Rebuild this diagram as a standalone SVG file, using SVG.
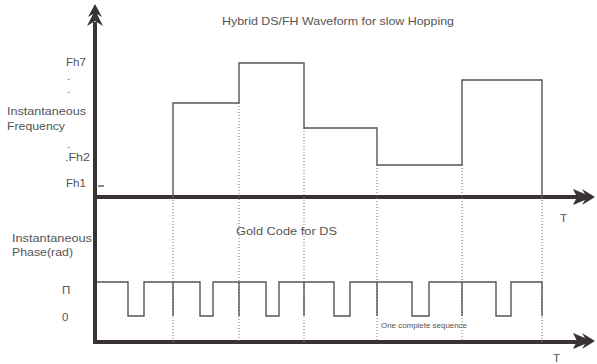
<svg xmlns="http://www.w3.org/2000/svg" width="597" height="364" viewBox="0 0 597 364">
<style>
text{font-family:"Liberation Sans",Arial,sans-serif;fill:#555;}
.lbl{font-size:11.5px;}
.axis{stroke:#3a3333;stroke-width:4;fill:none;}
.wave{stroke:#555;stroke-width:1.4;fill:none;}
.dot{stroke:#777;stroke-width:1;stroke-dasharray:1,2;fill:none;}
.head{fill:#3a3333;}
</style>
<rect width="597" height="364" fill="#fff"/>
<g id="axes">
<path class="axis" d="M95,22 V342 H578"/>
<path class="axis" d="M95,197 H578"/>
<path class="head" d="M95,4 L102,17 L97,14 L103,26 L95,21 L87,26 L93,14 L88,17 Z"/>
<path class="head" d="M595,197 L582,205 L585,200 L573,205 L577,197 L573,189 L585,194 L582,189 Z"/>
<path class="head" d="M595,341 L582,349 L585,344 L573,349 L577,341 L573,333 L585,338 L582,333 Z"/>
<path class="wave" d="M98,186 H104"/>
</g>
<g id="connectors">
<path class="dot" d="M173,197 V342 M239,103 V342 M304,128 V342 M377,165 V342 M462,165 V342 M542,197 V342"/>
</g>
<g id="frequency-waveform">
<path class="wave" d="M173,197 V103 H239 V63 H304 V128 H377 V165 H462 V80 H542 V197"/>
</g>
<g id="phase-waveform">
<path class="wave" d="M97,282 H128 V316 H144 V282 H173 H200 V316 H213 V282 H239 H266 V316 H279 V282 H304 H334 V316 H350 V282 H377 H412 V316 H429 V282 H462 H496 V316 H511 V282 H542 V316"/>
<path class="wave" d="M173,282 V316 M239,282 V316 M304,282 V316 M377,282 V316 M462,282 V316"/>
</g>
<g id="labels">
<text class="lbl" x="222" y="25" textLength="232" lengthAdjust="spacingAndGlyphs">Hybrid DS/FH Waveform for slow Hopping</text>
<text class="lbl" x="66" y="66" textLength="20" lengthAdjust="spacingAndGlyphs">Fh7</text>
<text class="lbl" x="67" y="80">.</text>
<text class="lbl" x="67" y="93">.</text>
<text class="lbl" x="7" y="115" textLength="79" lengthAdjust="spacingAndGlyphs">Instantaneous</text>
<text class="lbl" x="7" y="130" textLength="58" lengthAdjust="spacingAndGlyphs">Frequency</text>
<text class="lbl" x="67" y="148">.</text>
<text class="lbl" x="65" y="161" textLength="25" lengthAdjust="spacingAndGlyphs">.Fh2</text>
<text class="lbl" x="66" y="187" textLength="20" lengthAdjust="spacingAndGlyphs">Fh1</text>
<text class="lbl" x="560" y="222">T</text>
<text class="lbl" x="236" y="235" textLength="101" lengthAdjust="spacingAndGlyphs">Gold Code for DS</text>
<text class="lbl" x="12" y="242" textLength="80" lengthAdjust="spacingAndGlyphs">Instantaneous</text>
<text class="lbl" x="12" y="256" textLength="61" lengthAdjust="spacingAndGlyphs">Phase(rad)</text>
<text class="lbl" x="62" y="294">Π</text>
<text class="lbl" x="62" y="321">0</text>
<text x="381" y="328" style="font-size:7px" textLength="86" lengthAdjust="spacingAndGlyphs">One complete sequence</text>
<text class="lbl" x="553" y="362">T</text>
</g>
</svg>
